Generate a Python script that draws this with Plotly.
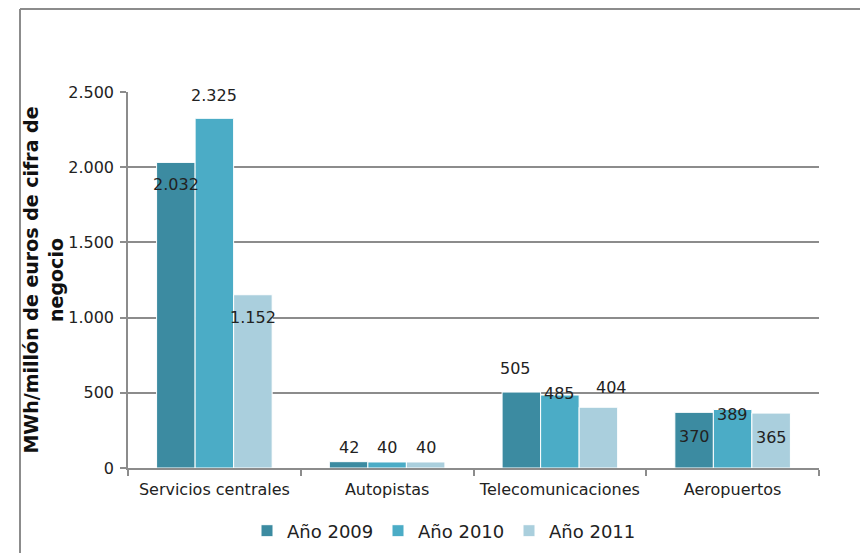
import plotly.graph_objects as go

categories = ["Servicios centrales", "Autopistas", "Telecomunicaciones", "Aeropuertos"]
series_names = ["Año 2009", "Año 2010", "Año 2011"]
values_2009 = [2032, 42, 505, 370]
values_2010 = [2325, 40, 485, 389]
values_2011 = [1152, 40, 404, 365]
y_ticks = [0, 500, 1000, 1500, 2000, 2500]

# label offsets in px (style only) per series per category
label_yshift = [
    [-22, 14, 24, -24],
    [23, 14, 2, -5],
    [-23, 14, 20, -24],
]
label_xshift = [
    [0, 0, -6, 0],
    [0, 0, 0, 0],
    [0, 0, 13, 0],
]

colors = ["#3C8BA1", "#4BACC6", "#AACFDD"]
series_values = [values_2009, values_2010, values_2011]

OFF = 8  # page body margin
W, H = 868, 553
L, T = 128 - OFF, 92 - OFF
pw, ph = 691, 376
R, B = W - L - pw, H - T - ph
bargap = 0.331

fig = go.Figure()
for name, vals, col in zip(series_names, series_values, colors):
    fig.add_trace(go.Bar(
        x=categories, y=vals, name=name,
        marker=dict(color=col, line=dict(color="white", width=1)),
    ))

def fmt(v):
    return f"{v:,}".replace(",", ".")

bw = (1 - bargap) / 3
annotations = []
for j, vals in enumerate(series_values):
    for i, v in enumerate(vals):
        annotations.append(dict(
            x=i + (j - 1) * bw, y=v, xref="x", yref="y",
            text=fmt(v), showarrow=False,
            xshift=label_xshift[j][i], yshift=label_yshift[j][i],
            font=dict(family="DejaVu Sans", size=16, color="#222222"),
            xanchor="center", yanchor="middle",
        ))

# screen px -> paper coords
def px_x(p):
    return (p - OFF - L) / pw

def px_y(p):
    return (T + ph - (p - OFF)) / ph

shapes = [
    dict(type="line", xref="paper", yref="paper", x0=px_x(20), x1=px_x(20),
         y0=px_y(OFF + 1), y1=px_y(620), line=dict(color="#8C8C8C", width=2)),
    dict(type="line", xref="paper", yref="paper", x0=px_x(20), x1=px_x(900),
         y0=px_y(OFF + 1), y1=px_y(OFF + 1), line=dict(color="#8C8C8C", width=2)),
    dict(type="line", xref="paper", yref="paper", x0=px_x(867), x1=px_x(867),
         y0=px_y(OFF + 1), y1=px_y(620), line=dict(color="#DDDDDD", width=1.5)),
]

fig.update_layout(
    width=W, height=H,
    margin=dict(l=L, r=R, t=T, b=B, autoexpand=False),
    paper_bgcolor="white", plot_bgcolor="white",
    separators=",.",
    barmode="group", bargap=bargap, bargroupgap=0,
    font=dict(family="DejaVu Sans", size=16, color="#222222"),
    showlegend=True,
    legend=dict(orientation="h", x=px_x(247), xanchor="left",
                y=px_y(531), yanchor="middle",
                font=dict(family="DejaVu Sans", size=18, color="#222222"),
                itemwidth=30, entrywidth=86, entrywidthmode="pixels",
                bgcolor="rgba(0,0,0,0)"),
    annotations=annotations,
    shapes=shapes,
)

fig.update_xaxes(
    type="category", showline=True, linecolor="#8C8C8C", linewidth=1.5,
    ticks="outside", tickson="boundaries", ticklen=6, tickcolor="#8C8C8C",
    tickwidth=1.5, showgrid=False, ticklabelstandoff=6,
    tickfont=dict(family="DejaVu Sans", size=16, color="#222222"),
    automargin=False,
)
fig.update_yaxes(
    range=[0, 2500], tickvals=y_ticks, tickformat=",d",
    showline=True, linecolor="#8C8C8C", linewidth=1.5,
    ticks="outside", ticklen=6, tickcolor="#8C8C8C", tickwidth=1.5,
    showgrid=True, gridcolor="#8C8C8C", gridwidth=1.5,
    zeroline=False, ticklabelstandoff=3,
    tickfont=dict(family="DejaVu Sans", size=16, color="#222222"),
    title=dict(text="<b>MWh/millón de euros de cifra de<br>negocio</b>",
               font=dict(family="DejaVu Sans", size=19, color="#111111"),
               standoff=0),
    automargin=False,
)

fig.write_html("out.html")
